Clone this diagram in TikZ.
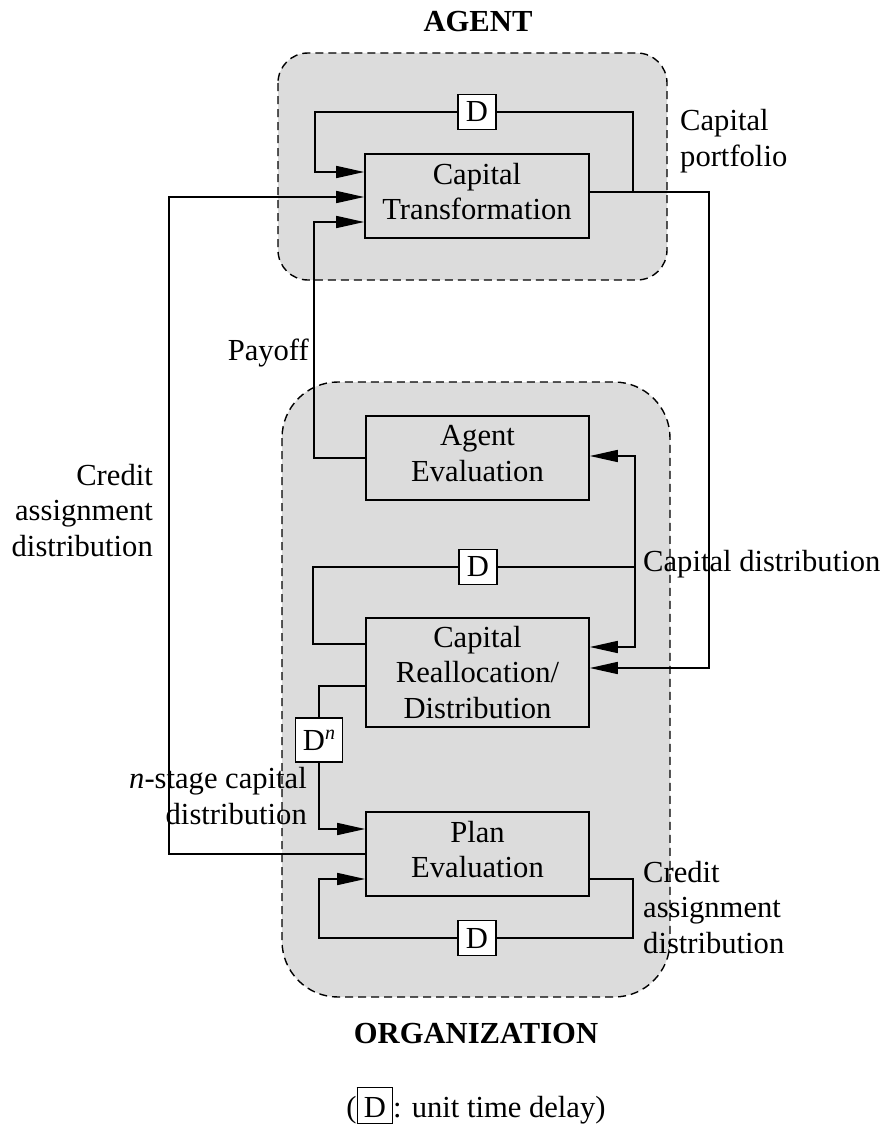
\documentclass[tikz,border=0pt]{standalone}
\usepackage{fontspec}
\setmainfont{Liberation Serif}
\usetikzlibrary{arrows.meta,calc}

\definecolor{regionfill}{RGB}{220,220,220}

\tikzset{
  txt/.style={font=\fontsize{30.6}{35.5}\selectfont},
  title/.style={font=\fontsize{30.6}{35.5}\selectfont\bfseries, inner sep=0pt},
  region/.style={draw=black, fill=regionfill, line width=1.4pt, dash pattern=on 8pt off 5pt},
  block/.style={txt, draw, line width=1.6pt, minimum width=223pt, align=center, inner sep=0pt},
  twoline/.style={block, minimum height=84pt, text depth=9pt},
  delay/.style={txt, draw, fill=white, line width=1.6pt, minimum width=38pt, minimum height=35pt, inner sep=0pt},
  wire/.style={line width=1.6pt},
  flow/.style={wire, -{Triangle[length=28pt,width=12pt]}},
  lbl/.style={txt, inner sep=0pt}
}

\begin{document}
\begin{tikzpicture}[x=1pt,y=-1pt]
  \useasboundingbox (0,0) rectangle (887,1124);

  % the two shaded groups
  \draw[region, rounded corners=30pt] (278,53) rectangle (667,280);
  \draw[region, rounded corners=56pt] (282,382) rectangle (670,997);

  % processing blocks
  \node[twoline, minimum width=224pt] (CT) at (477,196) {Capital\\Transformation};
  \node[twoline] (AE) at (477.5,458) {Agent\\Evaluation};
  \node[block, minimum height=109pt] (CR) at (477.5,672.5) {Capital\\Reallocation/\\Distribution};
  \node[twoline] (PE) at (477.5,854) {Plan\\Evaluation};

  % delay elements
  \node[delay] (D1) at (477,112) {D};
  \node[delay] (D2) at (478,567) {D};
  \node[delay] (D3) at (477,938) {D};
  \node[delay, minimum width=47pt, minimum height=44pt] (Dn) at (319,740)
    {D\raisebox{11pt}{\fontsize{20}{20}\selectfont\itshape n}};

  % bend points of the wiring
  \coordinate (portTap)   at (633,192);
  \coordinate (portRight) at (709,192);
  \coordinate (ctLoopL)   at (315,172);
  \coordinate (creditL)   at (169,197);
  \coordinate (payoffL)   at (314,222);
  \coordinate (cdL)       at (313,567);
  \coordinate (cdTap)     at (635,567);
  \coordinate (peR)       at (633,938);
  \coordinate (peL)       at (319,879);

  % capital portfolio: agent output to reallocation
  \draw[flow] ([yshift=4pt]CT.east) -- (portRight) |- ([yshift=4.5pt]CR.east);
  % agent self-loop through a unit delay
  \draw[wire] (portTap) |- (D1.east);
  \draw[flow] (D1.west) -| (ctLoopL) -- ([yshift=24pt]CT.west);
  % credit assignment back to the agent
  \draw[flow] (PE.west) -| (creditL) -- ([yshift=-1pt]CT.west);
  % payoff
  \draw[flow] (AE.west) -| (payoffL) -- ([yshift=-26pt]CT.west);
  % capital distribution loop
  \draw[wire] ([yshift=28.5pt]CR.west) -| (cdL) -- (D2.west);
  \draw[wire] (D2.east) -- (cdTap);
  \draw[flow] (cdTap) |- ([yshift=2pt]AE.east);
  \draw[flow] (cdTap) |- ([yshift=25.5pt]CR.east);
  % n-stage capital distribution
  \draw[wire] ([yshift=-13.5pt]CR.west) -| (Dn.north);
  \draw[flow] (Dn.south) |- ([yshift=25pt]PE.west);
  % plan evaluation self-loop
  \draw[wire] ([yshift=-25pt]PE.east) -| (peR) -- (D3.east);
  \draw[flow] (D3.west) -| (peL) -- ([yshift=-25pt]PE.west);

  % labels (base anchor of a multi-line label is its last line)
  \node[title, anchor=base] (agentT) at (478,32) {AGENT};
  \node[title, anchor=base] (orgT) at (476,1043) {ORGANIZATION};
  \node[lbl, anchor=base west, align=left] (portL) at (680,166) {Capital\\portfolio};
  \node[lbl, anchor=base east] (payL) at (309,360) {Payoff};
  \node[lbl, anchor=base east, align=right] (credL) at (153,556) {Credit\\assignment\\distribution};
  \node[lbl, anchor=base west] (cdLbl) at (643,571) {Capital distribution};
  \node[lbl, anchor=base east, align=right] (nsL) at (307,824) {\textit{n}-stage capital\\distribution};
  \node[lbl, anchor=base west, align=left] (credR) at (643,953) {Credit\\assignment\\distribution};
  \node[lbl, anchor=base] (legend) at (476,1117)
    {(\setlength{\fboxsep}{0pt}\setlength{\fboxrule}{1.2pt}%
      \fbox{\rule[-6pt]{0pt}{35pt}\makebox[34pt]{D}}: unit time delay)};
\end{tikzpicture}
\end{document}
